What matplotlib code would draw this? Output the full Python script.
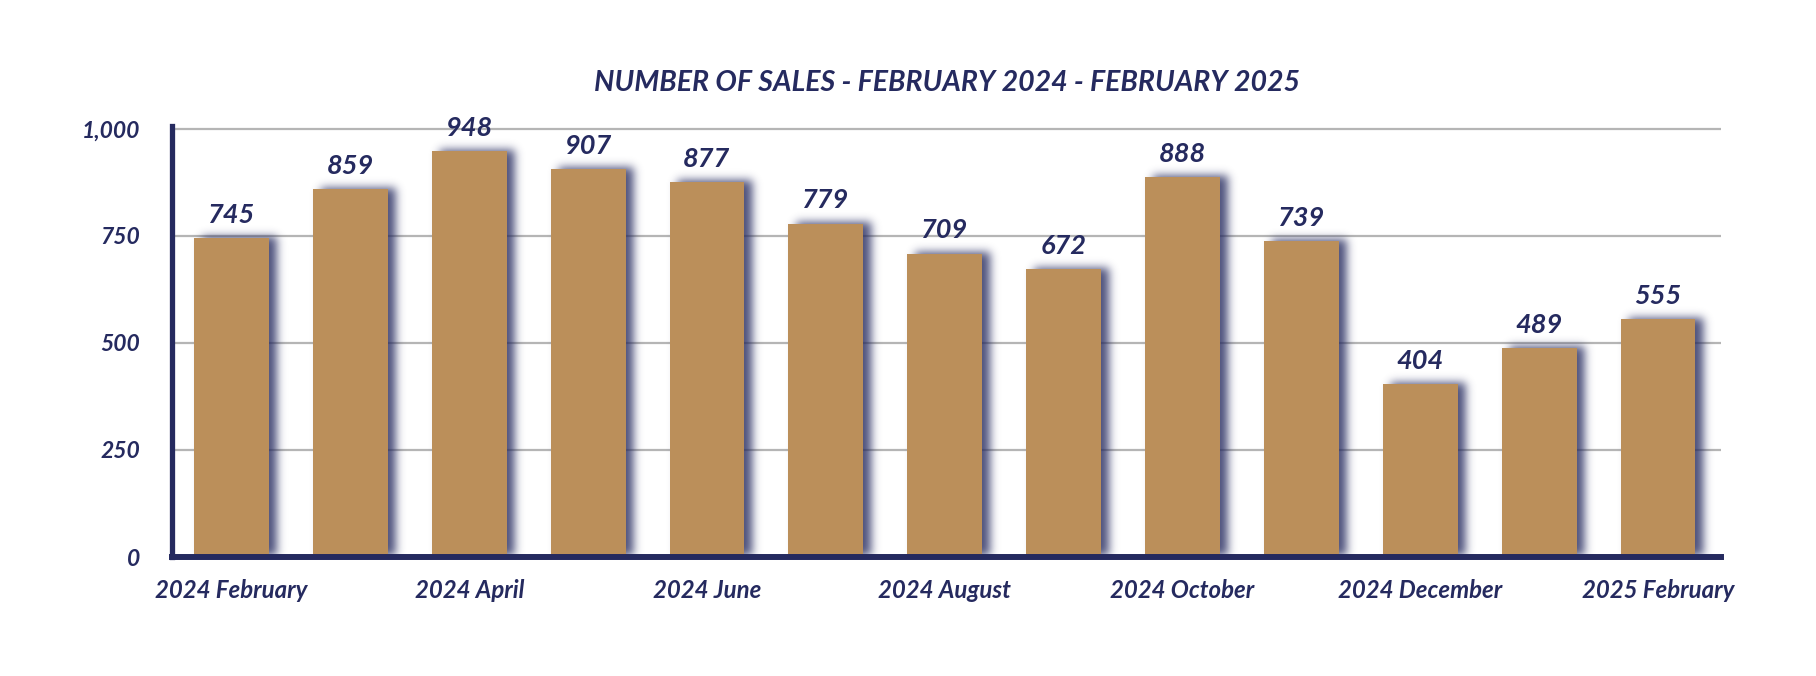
import math
import numpy as np
import matplotlib
matplotlib.use("Agg")
import matplotlib.pyplot as plt

months = ["2024 February", "2024 March", "2024 April", "2024 May", "2024 June",
          "2024 July", "2024 August", "2024 September", "2024 October",
          "2024 November", "2024 December", "2025 January", "2025 February"]
sales = [745, 859, 948, 907, 877, 779, 709, 672, 888, 739, 404, 489, 555]
yticks = [0, 250, 500, 750, 1000]
ytick_labels = ["0", "250", "500", "750", "1,000"]
title = "NUMBER OF SALES - FEBRUARY 2024 - FEBRUARY 2025"

NAVY = "#252a5f"
GOLD = "#bb8f5a"
GRID = "#b5b5b5"
FONT = ["Lato", "DejaVu Sans"]
plt.rcParams["font.family"] = FONT

W, H, DPI = 1816, 676, 100
fig = plt.figure(figsize=(W / DPI, H / DPI), dpi=DPI, facecolor="white")
left, right = 172 / W, 1721 / W
bottom, top = (H - 557) / H, (H - 126) / H
ax = fig.add_axes([left, bottom, right - left, top - bottom])

x = np.arange(len(months))
bw = 0.63
bars = ax.bar(x, sales, width=bw, color=GOLD, zorder=3)
ax.set_xlim(-0.5, len(months) - 0.47)
ax.set_ylim(0, 1007)

ax.set_yticks(yticks)
ax.set_yticklabels(ytick_labels)
ax.yaxis.grid(True, color=GRID, linewidth=1.6, zorder=0)
ax.set_axisbelow(True)
ax.tick_params(axis="y", length=0, pad=23, labelsize=16.5, labelcolor=NAVY)
for lab in ax.get_yticklabels():
    lab.set_fontweight("bold"); lab.set_fontstyle("italic")

ax.set_xticks(x[::2])
ax.set_xticklabels(months[::2])
ax.tick_params(axis="x", length=0, pad=16, labelsize=17.3, labelcolor=NAVY)
for lab in ax.get_xticklabels():
    lab.set_fontweight("bold"); lab.set_fontstyle("italic")

for s in ["top", "right"]:
    ax.spines[s].set_visible(False)
ax.spines["left"].set_color(NAVY)
ax.spines["left"].set_linewidth(3.8)
ax.spines["bottom"].set_color(NAVY)
ax.spines["bottom"].set_linewidth(4.3)
ax.spines["left"].set_zorder(5)
ax.spines["bottom"].set_zorder(5)

# blurred drop shadow computed in pixel space
bbox = ax.get_window_extent()
aw, ah = int(round(bbox.width)), int(round(bbox.height))
px = np.arange(aw) + 0.5 + bbox.x0
py = np.arange(ah) + 0.5 + bbox.y0
erf = np.frompyfunc(math.erf, 1, 1)
sig = 4.5 * math.sqrt(2)
dx, dy = 8.0, 1.5
shadow = np.zeros((ah, aw))
for xi, v in zip(x, sales):
    (x0, y0) = ax.transData.transform((xi - bw / 2, 0))
    (x1, y1) = ax.transData.transform((xi + bw / 2, v))
    x0 += dx; x1 += dx; y0 += dy; y1 += dy
    fx = 0.5 * (erf((px - x0) / sig).astype(float) - erf((px - x1) / sig).astype(float))
    fy = 0.5 * (erf((py - y0) / sig).astype(float) - erf((py - y1) / sig).astype(float))
    shadow = np.maximum(shadow, np.outer(fy, fx))
rgba = np.zeros((ah, aw, 4))
rgba[..., :3] = matplotlib.colors.to_rgb(NAVY)
rgba[..., 3] = np.clip(shadow, 0, 1) * 0.82
xl, yl = ax.get_xlim(), ax.get_ylim()
ax.imshow(rgba, origin="lower", extent=(xl[0], xl[1], yl[0], yl[1]),
          aspect="auto", interpolation="bilinear", zorder=2)
ax.set_xlim(xl); ax.set_ylim(yl)

for xi, v in zip(x, sales):
    ax.annotate(f"{v}", (xi, v), xytext=(0, 8), textcoords="offset points",
                ha="center", va="bottom", fontsize=19.5, fontweight="bold",
                fontstyle="italic", color=NAVY, zorder=6)

fig.text((left + right) / 2, 1 - 83 / H, title, ha="center", va="center",
         fontsize=20.5, fontweight="bold", fontstyle="italic", color=NAVY)

fig.savefig("out.png", dpi=DPI, facecolor="white")
